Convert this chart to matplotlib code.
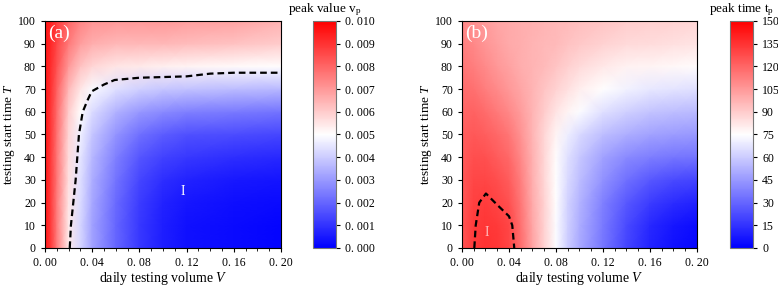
import numpy as np
import matplotlib.pyplot as plt
from matplotlib.ticker import FuncFormatter, MultipleLocator

plt.rcParams['font.family'] = ['Liberation Serif', 'DejaVu Serif']
plt.rcParams['mathtext.fontset'] = 'custom'
plt.rcParams['mathtext.rm'] = 'Liberation Serif'
plt.rcParams['mathtext.it'] = 'Liberation Serif:italic'

# testing start time T (rows of both grids)
T = [0, 10, 20, 30, 40, 50, 60, 70, 80, 90, 100]

# panel (a): peak value v_p (x 1e-3), columns = daily testing volume Va
Va = [0.0, 0.005, 0.01, 0.02, 0.03, 0.04, 0.06, 0.08, 0.10, 0.12, 0.16, 0.20]
vp_milli = [
    [9.6, 8.8, 7.6, 5.4, 4.2, 3.2, 2.0, 1.1, 0.6, 0.35, 0.2, 0.1],
    [9.6, 8.8, 7.6, 5.4, 4.2, 3.2, 2.0, 1.1, 0.6, 0.35, 0.2, 0.1],
    [9.6, 8.8, 7.6, 5.5, 4.3, 3.3, 2.1, 1.2, 0.7, 0.45, 0.3, 0.2],
    [9.6, 8.8, 7.7, 5.6, 4.4, 3.4, 2.3, 1.4, 0.9, 0.7, 0.5, 0.4],
    [9.6, 8.8, 7.7, 5.7, 4.5, 3.6, 2.5, 1.7, 1.3, 1.1, 0.9, 0.8],
    [9.6, 8.9, 7.8, 5.8, 4.7, 3.9, 2.9, 2.2, 1.8, 1.6, 1.5, 1.4],
    [9.6, 8.9, 7.9, 6.0, 5.0, 4.3, 3.5, 3.0, 2.7, 2.5, 2.4, 2.3],
    [9.6, 9.0, 8.1, 6.4, 5.5, 4.9, 4.4, 4.1, 3.9, 3.8, 3.7, 3.6],
    [9.6, 9.1, 8.4, 7.0, 6.2, 5.8, 5.5, 5.4, 5.3, 5.2, 5.1, 5.0],
    [9.6, 9.2, 8.6, 7.6, 6.9, 6.6, 6.4, 6.4, 6.4, 6.3, 6.2, 6.0],
    [9.6, 9.3, 8.8, 8.0, 7.4, 7.1, 7.0, 7.0, 7.0, 6.9, 6.8, 6.5],
]

# panel (b): peak time t_p, columns = Vb
Vb = [0.0, 0.01, 0.02, 0.03, 0.04, 0.05, 0.06, 0.07, 0.08, 0.09, 0.10, 0.12, 0.14, 0.16, 0.18, 0.20]
tp = [
    [125, 132, 135, 134, 130, 118, 102, 88, 74, 60, 50, 35, 20, 10, 5, 2],
    [125, 132, 134, 133, 129, 117, 101, 88, 74, 61, 51, 36, 22, 12, 7, 4],
    [124, 131, 132, 130, 126, 115, 100, 88, 75, 62, 53, 38, 26, 18, 13, 10],
    [124, 129, 129, 127, 123, 113, 99, 87, 75, 64, 56, 43, 33, 26, 22, 20],
    [123, 127, 126, 123, 119, 110, 98, 87, 76, 66, 59, 48, 41, 37, 35, 34],
    [122, 124, 122, 119, 115, 107, 97, 87, 78, 70, 64, 56, 51, 48, 46, 45],
    [120, 121, 118, 114, 110, 104, 97, 90, 83, 78, 74, 66, 61, 58, 56, 55],
    [118, 117, 113, 109, 105, 101, 97, 92, 88, 84, 80, 75, 71, 68, 67, 66],
    [115, 113, 109, 105, 102, 99, 97, 95, 92, 89, 86, 82, 79, 78, 77, 76],
    [112, 110, 106, 103, 100, 99, 97, 96, 95, 93, 91, 88, 86, 85, 84, 83],
    [110, 107, 104, 101, 100, 99, 98, 97, 96, 95, 94, 92, 90, 89, 88, 87],
]

# dashed boundaries of region I
a_bound_V = [0.021, 0.022, 0.024, 0.026, 0.0288, 0.032, 0.036, 0.0396, 0.05, 0.059, 0.08, 0.10, 0.12, 0.14, 0.16, 0.20]
a_bound_T = [0, 10, 20, 30, 50, 60, 65, 69, 72, 74, 75, 75.3, 75.6, 76.8, 77.2, 77.2]
b_bound_V = [0.0105, 0.0117, 0.0147, 0.0204, 0.030, 0.040, 0.0428, 0.0445]
b_bound_T = [0, 10, 20, 24, 19, 14, 10, 0]

fig = plt.figure(figsize=(7.78, 2.87), dpi=100)


def fmt_dec(nd):
    return FuncFormatter(lambda x, pos: f"{x:.{nd}f}".replace('.', '. '))


def panel(ax_rect, cax_rect, xs, data, vmax, cticks, cfmt, ctitle, label, bV, bT, iV, iT, icol):
    ax = fig.add_axes(ax_rect)
    cax = fig.add_axes(cax_rect)
    m = ax.pcolormesh(xs, T, np.array(data), cmap='bwr', vmin=0, vmax=vmax, shading='gouraud')
    ax.plot(bV, bT, color='black', ls='--', lw=1.6, dashes=(3, 1.8))
    ax.set_xlim(0, 0.2)
    ax.set_ylim(0, 100)
    ax.xaxis.set_major_locator(MultipleLocator(0.04))
    ax.xaxis.set_minor_locator(MultipleLocator(0.01))
    ax.yaxis.set_major_locator(MultipleLocator(10))
    ax.xaxis.set_major_formatter(fmt_dec(2))
    ax.tick_params(labelsize=8.5, length=3)
    ax.tick_params(which='minor', length=2)
    ax.set_xlabel('daily testing volume $V$', fontsize=10, labelpad=0.5)
    ax.set_ylabel('testing start time $T$', fontsize=9.5, labelpad=1)
    ax.text(0.003, 98.5, label, color='white', fontsize=14, va='top', ha='left')
    ax.text(iV, iT, 'I', color=icol, fontsize=10, ha='center', va='center')
    cb = fig.colorbar(m, cax=cax, ticks=cticks)
    cb.ax.yaxis.set_major_formatter(cfmt)
    cb.ax.tick_params(labelsize=8.5, length=3)
    cb.outline.set_edgecolor('#777777')
    cax.set_title(ctitle, fontsize=9.5, pad=6)
    return ax


panel([0.0578, 0.1359, 0.3033, 0.791], [0.4023, 0.1359, 0.0296, 0.791],
      Va, np.array(vp_milli) / 1000, 0.01, np.arange(0, 0.0101, 0.001), fmt_dec(3),
      r'peak value v$_\mathrm{p}$', '(a)', a_bound_V, a_bound_T, 0.117, 25, 'white')
panel([0.5938, 0.1359, 0.302, 0.791], [0.9383, 0.1359, 0.0296, 0.791],
      Vb, tp, 150, np.arange(0, 151, 15), FuncFormatter(lambda x, pos: f"{x:.0f}"),
      r'peak time t$_\mathrm{p}$', '(b)', b_bound_V, b_bound_T, 0.021, 7, '#ffbbbb')

fig.savefig('out.png', dpi=100)
